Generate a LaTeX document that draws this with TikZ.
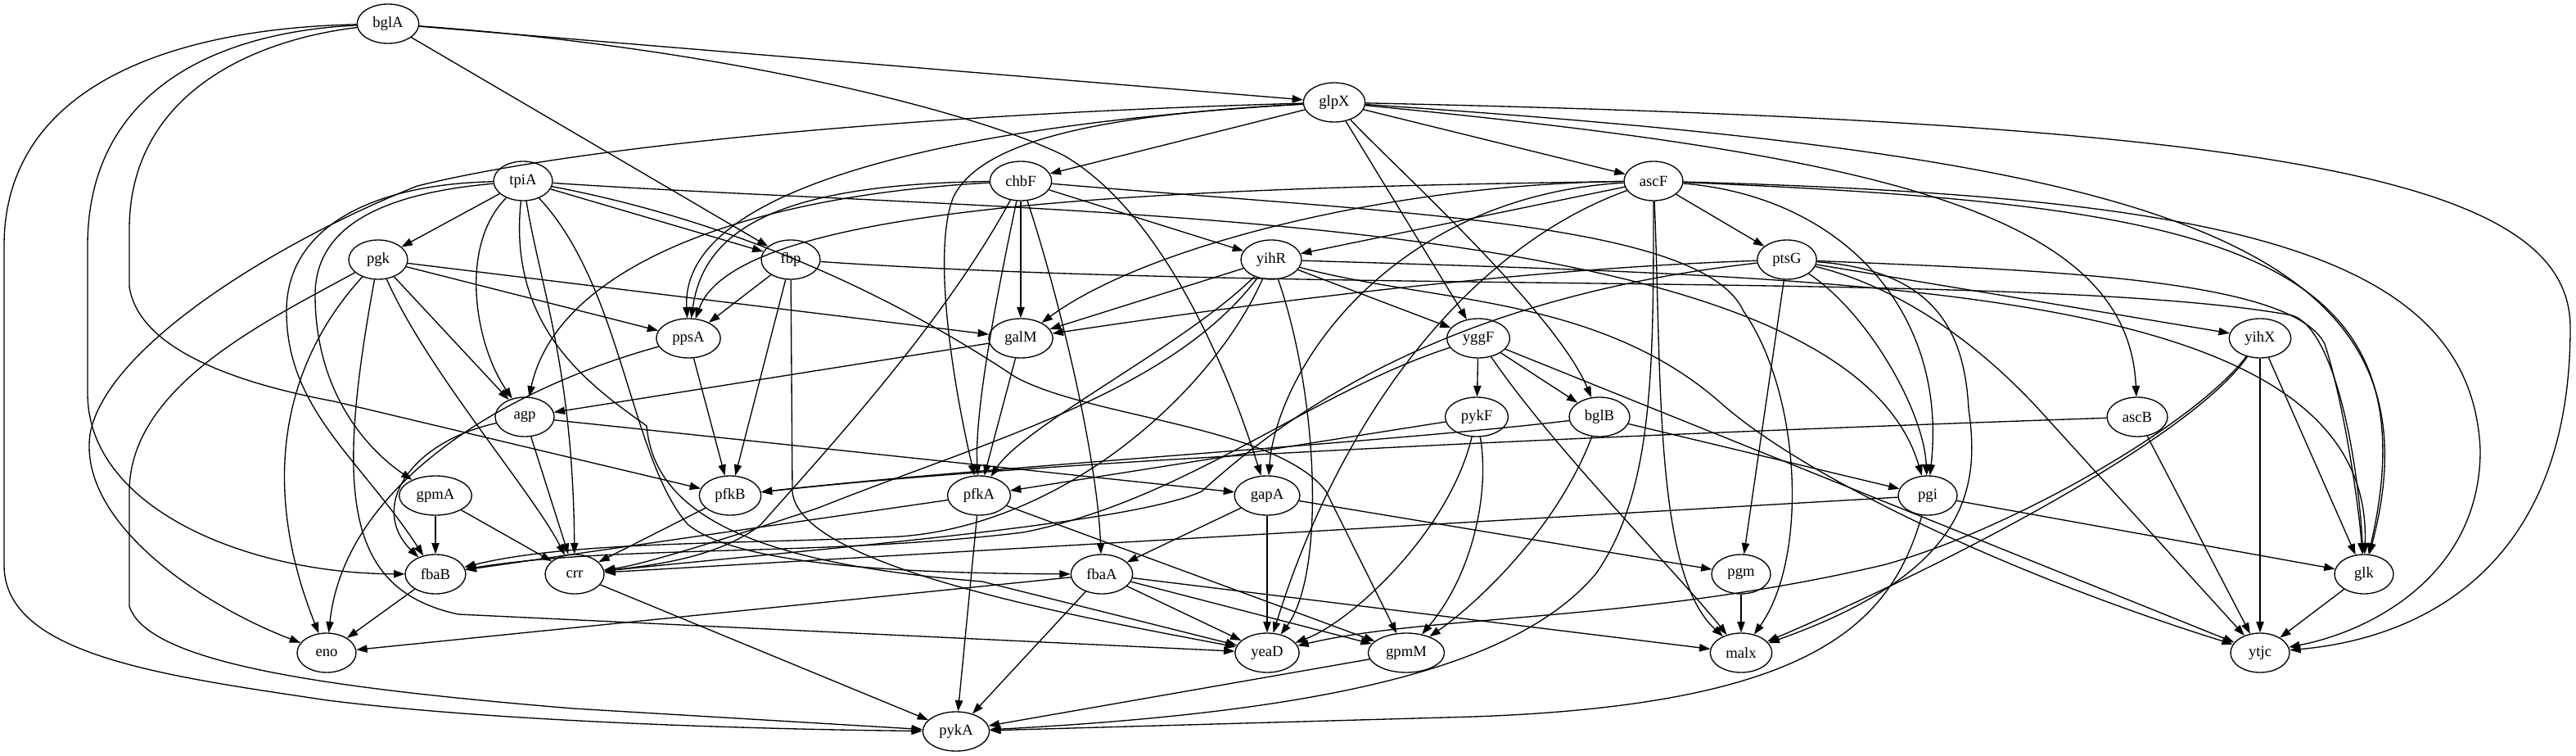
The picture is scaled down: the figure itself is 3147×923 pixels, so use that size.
\documentclass[tikz,border=0pt]{standalone}
\usepackage{fontspec}
\setmainfont{Liberation Serif}
\usetikzlibrary{shapes.geometric,arrows.meta}

\begin{document}
\begin{tikzpicture}[x=0.75pt, y=-0.75pt,
    gene/.style={draw, ellipse, line width=1pt, minimum width=54pt, minimum height=36pt,
        inner xsep=6pt, inner ysep=2pt, font=\fontsize{14}{16}\selectfont},
    link/.style={-{Triangle[length=10pt, width=7pt]}, line width=1pt}]
        \useasboundingbox (0,0) rectangle (3147,923);
        % Genes, one rank per row
        \node[gene] (bglA) at (474,29) {bglA};
        \node[gene] (glpX) at (1630,125) {glpX};
        \node[gene] (tpiA) at (639,221) {tpiA};
        \node[gene] (chbF) at (1247,221) {chbF};
        \node[gene] (ascF) at (2020,221) {ascF};
        \node[gene] (pgk) at (462,317) {pgk};
        \node[gene] (fbp) at (966,317) {fbp};
        \node[gene] (yihR) at (1553,317) {yihR};
        \node[gene] (ptsG) at (2183,317) {ptsG};
        \node[gene] (ppsA) at (841,413) {ppsA};
        \node[gene] (galM) at (1247,413) {galM};
        \node[gene] (yggF) at (1806,413) {yggF};
        \node[gene] (yihX) at (2761,413) {yihX};
        \node[gene] (agp) at (641,509) {agp};
        \node[gene] (pykF) at (1804,509) {pykF};
        \node[gene] (bglB) at (1954,509) {bglB};
        \node[gene] (ascB) at (2611,509) {ascB};
        \node[gene] (gpmA) at (532,605) {gpmA};
        \node[gene] (pfkB) at (892,605) {pfkB};
        \node[gene] (pfkA) at (1196,605) {pfkA};
        \node[gene] (gapA) at (1548,605) {gapA};
        \node[gene] (pgi) at (2355,605) {pgi};
        \node[gene] (fbaB) at (532,701) {fbaB};
        \node[gene] (crr) at (702,701) {crr};
        \node[gene] (fbaA) at (1346,701) {fbaA};
        \node[gene] (pgm) at (2127,701) {pgm};
        \node[gene] (glk) at (2888,701) {glk};
        \node[gene] (eno) at (399,797) {eno};
        \node[gene] (yeaD) at (1548,797) {yeaD};
        \node[gene] (gpmM) at (1718,797) {gpmM};
        \node[gene] (malx) at (2127,797) {malx};
        \node[gene] (ytjc) at (2761,797) {ytjc};
        \node[gene] (pykA) at (1168,893) {pykA};
        % bglA
        \draw[link] (bglA) -- (glpX);
        \draw[link] (bglA) -- (fbp);
        \draw[link] (bglA) .. controls (900,60) and (1200,140) .. (1300,190) .. controls (1420,260) and (1500,450) .. (gapA);
        \draw[link] (bglA) .. controls (300,50) and (158,120) .. (158,280) -- (158,350) .. controls (170,430) and (300,470) .. (408,490) -- (pfkB);
        \draw[link] (bglA) .. controls (250,40) and (107,120) .. (107,300) -- (107,480) .. controls (107,620) and (300,700) .. (fbaB);
        \draw[link] (bglA) .. controls (200,35) and (5,110) .. (5,300) -- (5,690) .. controls (5,800) and (200,825) .. (400,855) .. controls (600,880) and (900,890) .. (pykA);
        % glpX
        \draw[link] (glpX) -- (chbF);
        \draw[link] (glpX) -- (ascF);
        \draw[link] (glpX) .. controls (1200,150) and (830,220) .. (ppsA);
        \draw[link] (glpX) .. controls (1100,140) and (700,180) .. (510,227) .. controls (350,290) and (130,420) .. (110,530) .. controls (95,640) and (250,740) .. (eno);
        \draw[link] (glpX) .. controls (1350,140) and (1200,170) .. (1165,240) .. controls (1140,300) and (1160,450) .. (pfkA);
        \draw[link] (glpX) -- (yggF);
        \draw[link] (glpX) .. controls (1700,200) and (1900,380) .. (bglB);
        \draw[link] (glpX) .. controls (2300,190) and (2600,260) .. (ascB);
        \draw[link] (glpX) .. controls (2600,190) and (3000,280) .. (glk);
        \draw[link] (glpX) .. controls (2800,150) and (3140,220) .. (3140,400) .. controls (3140,700) and (2950,780) .. (ytjc);
        % tpiA
        \draw[link] (tpiA) -- (pgk);
        \draw[link] (tpiA) -- (fbp);
        \draw[link] (tpiA) .. controls (560,300) and (580,420) .. (agp);
        \draw[link] (tpiA) .. controls (480,235) and (385,270) .. (385,360) .. controls (385,480) and (450,550) .. (gpmA);
        \draw[link] (tpiA) .. controls (450,225) and (350,280) .. (350,380) .. controls (350,500) and (440,560) .. (fbaB);
        \draw[link] (tpiA) .. controls (660,350) and (700,450) .. (crr);
        \draw[link] (tpiA) .. controls (620,400) and (720,470) .. (790,520) .. controls (800,640) and (950,690) .. (1200,710) -- (yeaD);
        \draw[link] (tpiA) .. controls (760,350) and (770,560) .. (840,640) .. controls (900,690) and (1100,700) .. (fbaA);
        \draw[link] (tpiA) .. controls (950,280) and (1150,400) .. (1240,460) .. controls (1330,510) and (1560,520) .. (1620,600) -- (gpmM);
        \draw[link] (tpiA) .. controls (1300,265) and (2250,250) .. (pgi);
        % chbF
        \draw[link] (chbF) .. controls (950,225) and (860,280) .. (ppsA);
        \draw[link] (chbF) .. controls (900,240) and (680,330) .. (agp);
        \draw[link] (chbF) -- (galM);
        \draw[link] (chbF) .. controls (1220,350) and (1190,500) .. (pfkA);
        \draw[link] (chbF) .. controls (1290,350) and (1340,550) .. (fbaA);
        \draw[link] (chbF) .. controls (1150,400) and (1000,560) .. (930,640) .. controls (880,680) and (800,690) .. (crr);
        \draw[link] (chbF) -- (yihR);
        \draw[link] (chbF) .. controls (1700,260) and (2080,270) .. (2130,380) .. controls (2200,480) and (2210,680) .. (malx);
        % ascF
        \draw[link] (ascF) -- (yihR);
        \draw[link] (ascF) .. controls (1700,225) and (1400,300) .. (galM);
        \draw[link] (ascF) .. controls (1400,230) and (900,250) .. (ppsA);
        \draw[link] (ascF) -- (ptsG);
        \draw[link] (ascF) .. controls (1700,240) and (1560,450) .. (gapA);
        \draw[link] (ascF) .. controls (1800,300) and (1640,500) .. (yeaD);
        \draw[link] (ascF) .. controls (2020,450) and (2020,600) .. (1950,700) .. controls (1850,820) and (1600,870) .. (pykA);
        \draw[link] (ascF) .. controls (2250,240) and (2380,380) .. (pgi);
        \draw[link] (ascF) .. controls (2030,450) and (2020,700) .. (malx);
        \draw[link] (ascF) .. controls (2700,250) and (2980,300) .. (glk);
        \draw[link] (ascF) .. controls (2700,240) and (3020,300) .. (3030,550) .. controls (3030,700) and (2900,770) .. (ytjc);
        % pgk
        \draw[link] (pgk) -- (ppsA);
        \draw[link] (pgk) -- (galM);
        \draw[link] (pgk) -- (agp);
        \draw[link] (pgk) .. controls (520,450) and (650,600) .. (crr);
        \draw[link] (pgk) .. controls (410,600) and (420,720) .. (560,750) -- (yeaD);
        \draw[link] (pgk) .. controls (340,450) and (320,600) .. (eno);
        \draw[link] (pgk) .. controls (330,390) and (158,470) .. (158,600) -- (158,740) .. controls (180,810) and (400,840) .. (700,865) -- (pykA);
        % fbp
        \draw[link] (fbp) -- (ppsA);
        \draw[link] (fbp) -- (pfkB);
        \draw[link] (fbp) -- (968,600) .. controls (975,690) and (1300,750) .. (yeaD);
        \draw[link] (fbp) .. controls (1600,360) and (2500,330) .. (2800,385) .. controls (2850,400) and (2880,550) .. (glk);
        % yihR
        \draw[link] (yihR) -- (galM);
        \draw[link] (yihR) -- (yggF);
        \draw[link] (yihR) .. controls (1450,420) and (1250,520) .. (pfkA);
        \draw[link] (yihR) .. controls (1610,480) and (1620,700) .. (yeaD);
        \draw[link] (yihR) .. controls (1480,480) and (1300,640) .. (1100,655) .. controls (900,665) and (700,660) .. (fbaB);
        \draw[link] (yihR) .. controls (1430,480) and (1200,540) .. (1000,620) .. controls (850,670) and (780,690) .. (crr);
        \draw[link] (yihR) .. controls (2300,340) and (2900,350) .. (glk);
        \draw[link] (yihR) .. controls (1750,370) and (1950,360) .. (2100,490) .. controls (2200,580) and (2450,700) .. (ytjc);
        % ptsG
        \draw[link] (ptsG) .. controls (1800,330) and (1400,390) .. (galM);
        \draw[link] (ptsG) .. controls (1800,360) and (1600,480) .. (1468,600) .. controls (1380,640) and (1000,670) .. (crr);
        \draw[link] (ptsG) -- (pgm);
        \draw[link] (ptsG) .. controls (2280,380) and (2350,500) .. (pgi);
        \draw[link] (ptsG) -- (yihX);
        \draw[link] (ptsG) .. controls (2500,330) and (2800,340) .. (2840,420) .. controls (2860,480) and (2880,600) .. (glk);
        \draw[link] (ptsG) .. controls (2320,350) and (2420,420) .. (2500,510) -- (ytjc);
        \draw[link] (ptsG) .. controls (2360,330) and (2400,400) .. (2405,500) .. controls (2420,600) and (2400,700) .. (malx);
        % rank 4
        \draw[link] (ppsA) -- (pfkB);
        \draw[link] (ppsA) .. controls (600,480) and (420,600) .. (eno);
        \draw[link] (galM) -- (agp);
        \draw[link] (galM) -- (pfkA);
        \draw[link] (yggF) -- (pykF);
        \draw[link] (yggF) -- (bglB);
        \draw[link] (yggF) .. controls (1900,550) and (2050,700) .. (malx);
        \draw[link] (yggF) -- (ytjc);
        \draw[link] (yggF) .. controls (1600,480) and (1450,610) .. (1250,650) .. controls (1000,680) and (750,665) .. (fbaB);
        \draw[link] (yihX) .. controls (2680,520) and (2450,650) .. (2300,690) .. controls (2000,760) and (1750,750) .. (yeaD);
        \draw[link] (yihX) .. controls (2680,530) and (2400,680) .. (malx);
        \draw[link] (yihX) -- (ytjc);
        \draw[link] (yihX) -- (glk);
        % rank 5
        \draw[link] (agp) -- (crr);
        \draw[link] (agp) -- (gapA);
        \draw[link] (agp) .. controls (500,540) and (450,620) .. (fbaB);
        \draw[link] (pykF) -- (pfkA);
        \draw[link] (pykF) .. controls (1770,650) and (1650,760) .. (yeaD);
        \draw[link] (pykF) .. controls (1820,600) and (1800,700) .. (gpmM);
        \draw[link] (bglB) .. controls (1700,540) and (1200,570) .. (pfkB);
        \draw[link] (bglB) -- (pgi);
        \draw[link] (bglB) .. controls (1900,650) and (1800,740) .. (gpmM);
        \draw[link] (ascB) .. controls (2000,530) and (1300,560) .. (pfkB);
        \draw[link] (ascB) -- (ytjc);
        % rank 6
        \draw[link] (gpmA) -- (fbaB);
        \draw[link] (gpmA) -- (crr);
        \draw[link] (pfkB) -- (crr);
        \draw[link] (pfkA) -- (fbaB);
        \draw[link] (pfkA) -- (pykA);
        \draw[link] (pfkA) -- (gpmM);
        \draw[link] (gapA) -- (fbaA);
        \draw[link] (gapA) -- (yeaD);
        \draw[link] (gapA) -- (pgm);
        \draw[link] (pgi) -- (crr);
        \draw[link] (pgi) -- (glk);
        \draw[link] (pgi) .. controls (2310,760) and (2220,860) .. (1800,875) -- (pykA);
        % rank 7
        \draw[link] (fbaB) -- (eno);
        \draw[link] (crr) -- (pykA);
        \draw[link] (fbaA) -- (eno);
        \draw[link] (fbaA) -- (yeaD);
        \draw[link] (fbaA) -- (gpmM);
        \draw[link] (fbaA) -- (malx);
        \draw[link] (fbaA) -- (pykA);
        \draw[link] (pgm) -- (malx);
        \draw[link] (glk) -- (ytjc);
        \draw[link] (gpmM) -- (pykA);
    \end{tikzpicture}
\end{document}
